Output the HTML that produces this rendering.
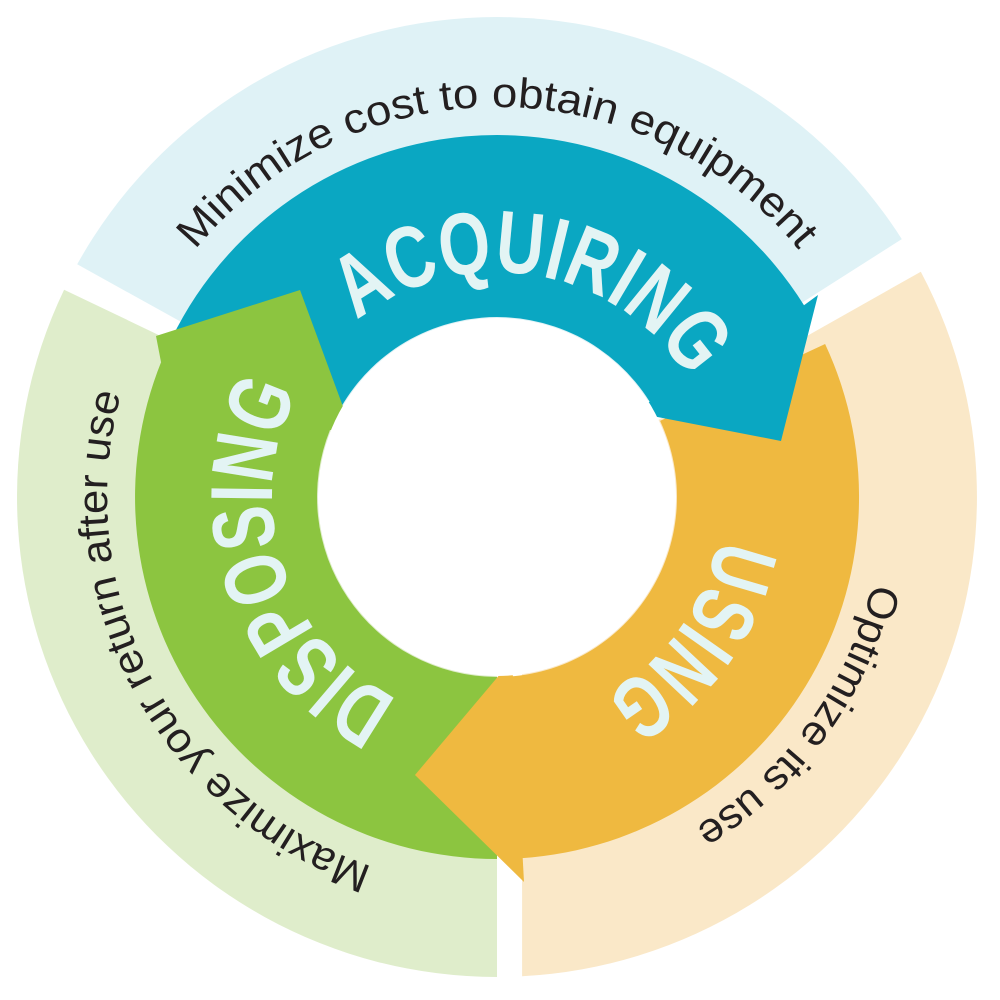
<!DOCTYPE html>
<html><head><meta charset="utf-8"><style>
html,body{margin:0;padding:0;background:#fff;}
svg{display:block;}
.o{font-family:"Liberation Sans",sans-serif;font-size:42px;fill:#231f20;}
.b{font-family:"Liberation Sans",sans-serif;font-weight:bold;font-size:88px;fill:#e3f4f4;}
</style></head><body>
<svg width="1000" height="1000" viewBox="0 0 1000 1000" xmlns="http://www.w3.org/2000/svg">
<defs>
<path id="pTop" d="M107,497 A390,390 0 0 1 887,497"/>
<path id="pRight" d="M726.2,181.5 A390,390 0 0 1 267.8,812.5"/>
<path id="pLeft" d="M680.1,841.4 A390,390 0 0 1 313.9,152.6"/>
<path id="bTop" d="M275.4,458.1 A225,225 0 0 1 718.6,536.1"/>
<path id="bRight" d="M629.3,315 A225,225 0 0 1 364.7,679"/>
<path id="bLeft" d="M566.5,711 A225,225 0 0 1 427.5,283"/>
</defs>
<path d="M497,497 L77.2,264.3 A480,480 0 0 1 901.8,239.1 Z" fill="#dff2f6"/>
<path d="M522,497 L920.8,271.7 A480,480 0 0 1 522.1,976.3 Z" fill="#fae8c8"/>
<path d="M497,497 L497,977 A480,480 0 0 1 64.1,289.7 Z" fill="#dfedcb"/>
<path d="M825.1,344 A362,362 0 0 1 509.6,858.8 L503.3,676.9 A180,180 0 0 0 660.1,420.9 Z" fill="#efb940"/>
<path d="M161.4,361.4 A362,362 0 0 1 804,305.2 L818,295 L781,441 L632,412 L649.6,401.6 A180,180 0 0 0 330.1,429.6 Z" fill="#0aa7c2"/>
<path d="M497,859 A362,362 0 0 1 161.4,361.4 L330.1,429.6 A180,180 0 0 0 497,677 Z" fill="#8cc540"/>
<polygon points="156,336 300,290 352,431 330,430 161,362" fill="#8cc540"/>
<polygon points="512,660 524,882 415,775" fill="#efb940"/>
<circle cx="497" cy="497" r="179" fill="#fff"/>
<text class="o"><textPath href="#pTop" startOffset="50%" text-anchor="middle" textLength="690" lengthAdjust="spacingAndGlyphs">Minimize cost to obtain equipment</textPath></text>
<text class="o"><textPath href="#pRight" startOffset="50%" text-anchor="middle" textLength="310" lengthAdjust="spacingAndGlyphs">Optimize its use</textPath></text>
<text class="o"><textPath href="#pLeft" startOffset="50%" text-anchor="middle" textLength="590" lengthAdjust="spacingAndGlyphs">Maximize your return after use</textPath></text>
<text class="b"><textPath href="#bTop" startOffset="50%" text-anchor="middle" textLength="380" lengthAdjust="spacingAndGlyphs">ACQUIRING</textPath></text>
<text class="b"><textPath href="#bRight" startOffset="50%" text-anchor="middle" textLength="200" lengthAdjust="spacingAndGlyphs">USING</textPath></text>
<text class="b"><textPath href="#bLeft" startOffset="50%" text-anchor="middle" textLength="360" lengthAdjust="spacingAndGlyphs">DISPOSING</textPath></text>
</svg>
</body></html>
